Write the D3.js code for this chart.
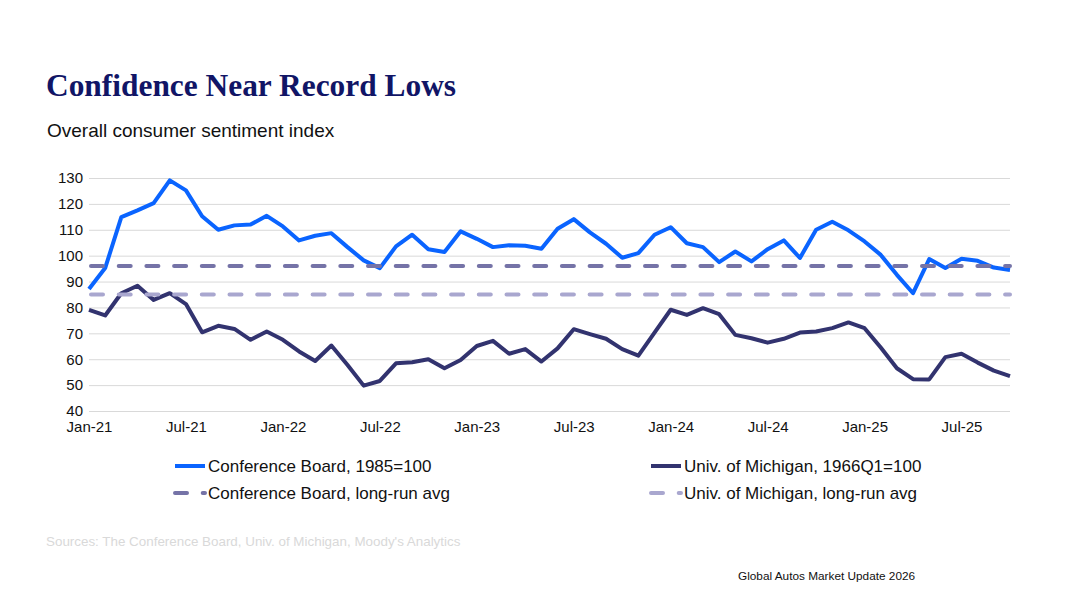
<!DOCTYPE html>
<html>
<head>
<meta charset="utf-8">
<script src="https://cdn.jsdelivr.net/npm/d3@7"></script>
<style>
	body { margin: 0; background: #fff; }
	svg { display: block; }
</style>
</head>
<body>
<script>
// monthly, Jan-21 .. Oct-25
var conferenceBoard = [
	87.1, 95.2, 114.9, 117.5, 120.3, 129.1, 125.2, 115.2, 110.0, 111.7, 112.0, 115.4,
	111.3, 105.9, 107.7, 108.7, 103.3, 98.2, 95.2, 103.6, 108.1, 102.5, 101.4, 109.4,
	106.5, 103.3, 104.0, 103.8, 102.7, 110.4, 114.1, 109.0, 104.6, 99.2, 101.0, 108.1,
	111.0, 104.8, 103.3, 97.5, 101.6, 97.8, 102.5, 105.9, 99.1, 110.0, 113.1, 109.8,
	105.5, 100.3, 92.6, 85.5, 98.7, 95.2, 98.8, 98.0, 95.4, 94.5
];
var michigan = [
	79.1, 76.9, 85.5, 88.4, 82.9, 85.5, 81.3, 70.4, 72.9, 71.7, 67.5, 70.7,
	67.5, 63.0, 59.3, 65.3, 57.8, 49.8, 51.6, 58.4, 58.8, 60.0, 56.5, 59.7,
	65.1, 67.1, 62.1, 63.9, 59.1, 64.2, 71.6, 69.7, 67.9, 63.9, 61.4, 70.3,
	79.1, 77.1, 79.7, 77.4, 69.4, 68.1, 66.4, 67.9, 70.3, 70.7, 72.0, 74.2,
	72.0, 64.5, 56.5, 52.3, 52.2, 60.8, 62.1, 58.7, 55.6, 53.5
];
var conferenceBoardAvg = 96;
var michiganAvg = 85;

var xTickLabels = ["Jan-21", "Jul-21", "Jan-22", "Jul-22", "Jan-23", "Jul-23", "Jan-24", "Jul-24", "Jan-25", "Jul-25"];
var yTicks = [40, 50, 60, 70, 80, 90, 100, 110, 120, 130];

var seriesNames = ["Conference Board, 1985=100", "Univ. of Michigan, 1966Q1=100",
	"Conference Board, long-run avg", "Univ. of Michigan, long-run avg"];

var SVG_WIDTH = 1080, SVG_HEIGHT = 607;
var PLOT = { LEFT: 89, RIGHT: 1010, TOP: 178, BOTTOM: 411 };
var COLORS = { cb: "#0a64ff", mich: "#32336f", cbAvg: "#7573a7", michAvg: "#a9a7cf", grid: "#d9d9d9" };
var FONT = "'Liberation Sans', Arial, sans-serif";

var svg = d3.select("body").append("svg")
	.attr("width", SVG_WIDTH).attr("height", SVG_HEIGHT);

// title + subtitle
svg.append("text")
	.attr("x", 46).attr("y", 96)
	.attr("font-family", "'Liberation Serif', 'Times New Roman', serif")
	.attr("font-weight", "bold").attr("font-size", 31.4)
	.attr("fill", "#111566")
	.text("Confidence Near Record Lows");
svg.append("text")
	.attr("x", 47).attr("y", 137)
	.attr("font-family", FONT).attr("font-size", 19)
	.attr("fill", "#111")
	.text("Overall consumer sentiment index");

var xScale = d3.scaleLinear()
	.domain([0, conferenceBoard.length - 1])
	.range([PLOT.LEFT, PLOT.RIGHT]);
var yScale = d3.scaleLinear()
	.domain([40, 130])
	.range([PLOT.BOTTOM, PLOT.TOP]);

// gridlines
svg.append("g")
	.attr("transform", "translate(" + PLOT.LEFT + ",0)")
	.call(d3.axisLeft(yScale).tickValues(yTicks).tickSize(-(PLOT.RIGHT - PLOT.LEFT)).tickFormat(""))
	.call(g => g.select(".domain").remove())
	.call(g => g.selectAll("line").attr("stroke", COLORS.grid).attr("stroke-width", 1));

// y labels
svg.append("g")
	.attr("transform", "translate(" + (PLOT.LEFT - 6) + ",0)")
	.call(d3.axisLeft(yScale).tickValues(yTicks).tickSize(0).tickPadding(0))
	.call(g => g.select(".domain").remove())
	.call(g => g.selectAll("text").attr("font-family", FONT).attr("font-size", 15).attr("fill", "#111"));

// x labels, every 6 months
svg.append("g")
	.attr("transform", "translate(0," + PLOT.BOTTOM + ")")
	.call(d3.axisBottom(xScale)
		.tickValues(xTickLabels.map(function (d, i) { return i * 6; }))
		.tickFormat(function (d, i) { return xTickLabels[i]; })
		.tickSize(0).tickPadding(10))
	.call(g => g.select(".domain").remove())
	.call(g => g.selectAll("text").attr("font-family", FONT).attr("font-size", 15).attr("fill", "#111"));

var line = d3.line()
	.x(function (d, i) { return xScale(i); })
	.y(function (d) { return yScale(d); });

svg.append("path").datum(conferenceBoard)
	.attr("d", line).attr("fill", "none")
	.attr("stroke", COLORS.cb).attr("stroke-width", 4).attr("stroke-linejoin", "round");
svg.append("path").datum(michigan)
	.attr("d", line).attr("fill", "none")
	.attr("stroke", COLORS.mich).attr("stroke-width", 4).attr("stroke-linejoin", "round");

// long-run averages
var DASH = "12,15.7";
[[conferenceBoardAvg, COLORS.cbAvg], [michiganAvg, COLORS.michAvg]].forEach(function (a) {
	svg.append("line")
		.attr("x1", xScale(0) + 2).attr("x2", xScale(conferenceBoard.length - 1))
		.attr("y1", yScale(a[0])).attr("y2", yScale(a[0]))
		.attr("stroke", a[1]).attr("stroke-width", 4)
		.attr("stroke-linecap", "round").attr("stroke-dasharray", DASH);
});

// legend
var legendItems = [
	{ name: seriesNames[0], color: COLORS.cb, x: 175, y: 466, dash: null },
	{ name: seriesNames[1], color: COLORS.mich, x: 651, y: 466, dash: null },
	{ name: seriesNames[2], color: COLORS.cbAvg, x: 175, y: 493, dash: DASH },
	{ name: seriesNames[3], color: COLORS.michAvg, x: 651, y: 493, dash: DASH }
];
var legend = svg.append("g");
legendItems.forEach(function (d) {
	legend.append("line")
		.attr("x1", d.x).attr("x2", d.x + 30)
		.attr("y1", d.y).attr("y2", d.y)
		.attr("stroke", d.color).attr("stroke-width", 4)
		.attr("stroke-linecap", d.dash ? "round" : "butt")
		.attr("stroke-dasharray", d.dash);
	legend.append("text")
		.attr("x", d.x + 33).attr("y", d.y + 6)
		.attr("font-family", FONT).attr("font-size", 17)
		.attr("fill", "#111")
		.text(d.name);
});

// footnotes
svg.append("text")
	.attr("x", 46).attr("y", 546)
	.attr("font-family", FONT).attr("font-size", 13.4)
	.attr("fill", "#d9d9d9")
	.text("Sources: The Conference Board, Univ. of Michigan, Moody's Analytics");
svg.append("text")
	.attr("x", 738).attr("y", 580)
	.attr("font-family", FONT).attr("font-size", 11.8)
	.attr("fill", "#111")
	.text("Global Autos Market Update 2026");
</script>
</body>
</html>
